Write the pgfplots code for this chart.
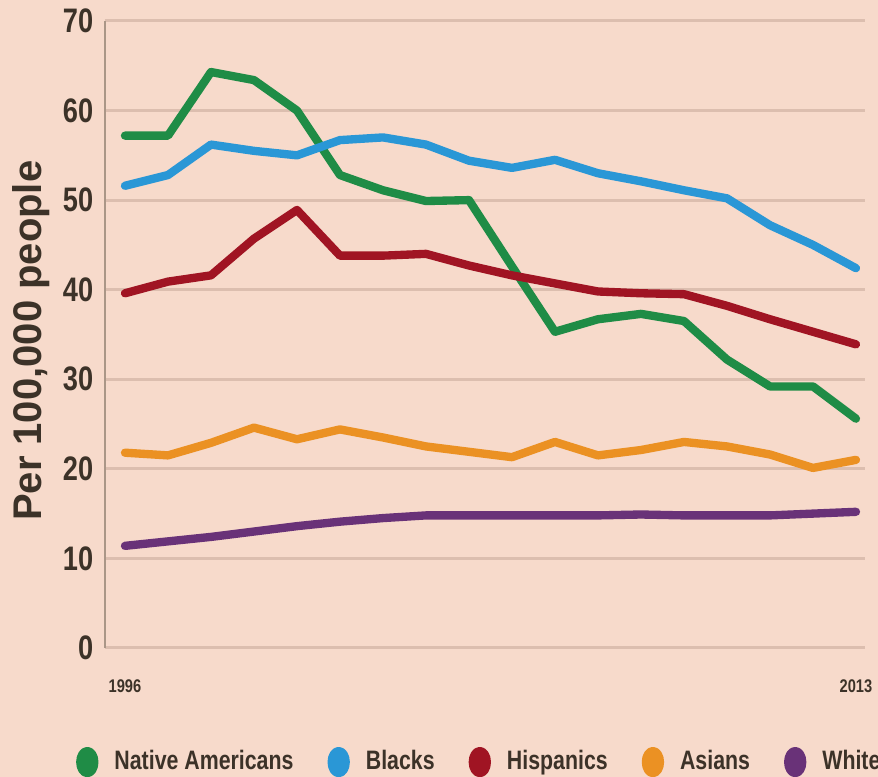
\documentclass[border=0pt]{standalone}
\usepackage{pgfplots}
\pgfplotsset{compat=1.18}
\usepackage{pgfplotstable}
\usepackage{fontspec}
\setmainfont{Liberation Sans}
\newfontfamily\cond{Liberation Sans}[FakeStretch=0.8]
\usetikzlibrary{backgrounds}
\definecolor{bgcol}{RGB}{247,218,203}
\definecolor{gridcol}{RGB}{220,190,175}
\definecolor{axcol}{RGB}{170,150,135}
\definecolor{txtcol}{RGB}{60,50,40}
\definecolor{cgreen}{RGB}{31,140,70}
\definecolor{cblue}{RGB}{42,151,214}
\definecolor{cred}{RGB}{160,20,35}
\definecolor{corange}{RGB}{235,145,35}
\definecolor{cpurple}{RGB}{105,50,120}
\pgfplotstableread{
year nat blk his asi wht
1996 57.2 51.6 39.6 21.8 11.4
1997 57.2 52.8 40.9 21.5 11.9
1998 64.3 56.2 41.6 22.9 12.4
1999 63.4 55.5 45.7 24.6 13.0
2000 60.0 55.0 48.9 23.3 13.6
2001 52.8 56.7 43.8 24.4 14.1
2002 51.1 57.0 43.8 23.5 14.5
2003 49.9 56.2 44.0 22.5 14.8
2004 50.0 54.4 42.7 21.9 14.8
2005 42.6 53.6 41.6 21.3 14.8
2006 35.3 54.5 40.7 23.0 14.8
2007 36.7 53.0 39.8 21.5 14.8
2008 37.3 52.1 39.6 22.1 14.9
2009 36.5 51.1 39.5 23.0 14.8
2010 32.2 50.2 38.2 22.5 14.8
2011 29.2 47.2 36.7 21.6 14.8
2012 29.2 45.0 35.3 20.1 15.0
2013 25.6 42.4 33.9 21.0 15.2
}\datatable
\begin{document}
\begin{tikzpicture}
\begin{axis}[
  name=ax,
  scale only axis,
  width=228pt, height=188.1pt,
  xmin=1995.535, xmax=2013.21,
  ymin=0, ymax=70,
  ytick={0,10,...,70},
  xtick={1996,2013},
  xticklabels={1996,2013},
  major tick length=0pt,
  ymajorgrids,
  major grid style={draw=gridcol, line width=0.9pt},
  axis x line*=bottom,
  axis y line*=left,
  x axis line style={draw=none},
  y axis line style={draw=axcol, line width=0.7pt, -},
  /pgf/number format/assume math mode=true,
  yticklabel style={font=\cond\bfseries\fontsize{10.2}{12}\selectfont, text=txtcol},
  xticklabel style={font=\cond\bfseries\fontsize{5.5}{6}\selectfont, text=txtcol, yshift=-6pt},
  ylabel={Per 100,000 people},
  ylabel style={font=\bfseries\fontsize{12}{14}\selectfont, text=txtcol, at={(axis description cs:-0.097,0.49)}, anchor=center},
  legend columns=5,
  legend style={draw=none, fill=none, at={(axis description cs:-0.052,-0.182)}, anchor=west,
    font=\cond\bfseries\fontsize{8.0}{9}\selectfont, text=txtcol,
    nodes={inner sep=1pt},
    /tikz/every odd column/.append style={column sep=3.8pt},
    /tikz/every even column/.append style={column sep=9.2pt}},
  legend image code/.code={\fill (2.1pt,0pt) ellipse [x radius=2.1pt, y radius=3.3pt];},
  every axis plot/.append style={line width=2.5pt, line join=round, line cap=round},
]
\addplot[color=cgreen] table[x=year,y=nat] {\datatable};
\addlegendentry{Native Americans}
\addplot[color=cblue] table[x=year,y=blk] {\datatable};
\addlegendentry{Blacks}
\addplot[color=cred] table[x=year,y=his] {\datatable};
\addlegendentry{Hispanics}
\addplot[color=corange] table[x=year,y=asi] {\datatable};
\addlegendentry{Asians}
\addplot[color=cpurple] table[x=year,y=wht] {\datatable};
\addlegendentry{Whites}
\end{axis}
\pgfresetboundingbox
\path[use as bounding box] ([xshift=-31.5pt,yshift=-38.7pt]ax.south west) rectangle ([xshift=3.9pt,yshift=6.3pt]ax.north east);
\begin{scope}[on background layer]
\fill[bgcol] ([xshift=-31.5pt,yshift=-38.7pt]ax.south west) rectangle ([xshift=3.9pt,yshift=6.3pt]ax.north east);
\end{scope}
\end{tikzpicture}
\end{document}
